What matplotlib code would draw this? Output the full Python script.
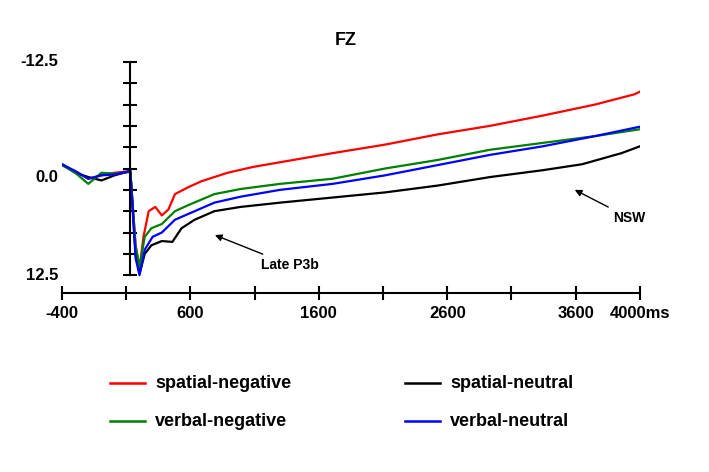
import numpy as np
import matplotlib
matplotlib.use('Agg')
from matplotlib import pyplot as plt
from matplotlib.lines import Line2D

plt.rcParams['font.family'] = ['Liberation Sans', 'DejaVu Sans']
plt.rcParams['font.weight'] = 'bold'

red_t = [-400, -300, -200, -100, 0, 120, 160, 190, 220, 260, 310, 360, 410, 460, 560, 660, 860, 1060, 1360, 1660, 2060, 2460, 2860, 3260, 3660, 3960, 4000]
red_v = [-0.4, 0.3, 1.2, 0.8, 0.5, 0.3, 9, 11.8, 8, 5, 4.5, 5.5, 4.8, 3.0, 2.2, 1.5, 0.5, -0.2, -1.0, -1.8, -2.8, -4.0, -5.0, -6.2, -7.5, -8.7, -9.0]
blk_t = [-400, -300, -200, -100, 0, 120, 160, 190, 230, 280, 360, 440, 510, 610, 760, 960, 1260, 1660, 2060, 2460, 2860, 3260, 3560, 3860, 4000]
blk_v = [-0.5, 0.5, 1.0, 1.4, 0.8, 0.3, 10, 12.3, 10, 9, 8.5, 8.6, 7, 6, 5, 4.5, 4, 3.4, 2.8, 2.0, 1.0, 0.2, -0.5, -1.8, -2.6]
grn_t = [-400, -300, -200, -100, 0, 120, 160, 190, 230, 280, 360, 460, 560, 760, 960, 1260, 1660, 2060, 2460, 2860, 3260, 3660, 4000]
grn_v = [-0.4, 0.5, 1.8, 0.5, 0.6, 0.4, 9, 11.5, 8, 7, 6.5, 5, 4.3, 3.0, 2.4, 1.8, 1.2, 0, -1.0, -2.2, -3.0, -3.8, -4.6]
blu_t = [-400, -300, -200, -100, 0, 120, 160, 190, 230, 290, 360, 460, 610, 760, 960, 1260, 1660, 2060, 2460, 2860, 3260, 3660, 4000]
blu_v = [-0.5, 0.3, 1.2, 0.8, 0.7, 0.3, 10.5, 12.5, 9.5, 8, 7.5, 6.0, 5.0, 4.0, 3.3, 2.5, 1.8, 0.8, -0.4, -1.6, -2.6, -3.8, -4.9]

series = [('spatial-negative', red_t, red_v, 'red'),
          ('spatial-neutral', blk_t, blk_v, 'black'),
          ('verbal-negative', grn_t, grn_v, 'green'),
          ('verbal-neutral', blu_t, blu_v, 'blue')]

xtick_labels = ['-400', '', '600', '', '1600', '', '2600', '', '3600', '4000ms']

fig = plt.figure(figsize=(7.09, 4.72), dpi=100)
ax = fig.add_axes([0.0875, 0.379, 0.815, 0.49])

for name, t, v, c in series:
    ax.plot(t, v, color=c, lw=1.6)

ax.set_xlim(-400, 4000)
ax.set_ylim(14.6, -12.5)
for s in ['top', 'right']:
    ax.spines[s].set_visible(False)
ax.spines['left'].set_position(('data', 120))
ax.spines['left'].set_bounds(12.5, -12.5)
ax.spines['left'].set_linewidth(1.5)
ax.spines['bottom'].set_linewidth(1.5)

xt = np.linspace(-400, 4000, 10)
ax.set_xticks(xt)
ax.set_xticklabels(xtick_labels, fontsize=12, fontweight='bold')
ax.tick_params(axis='x', direction='inout', length=10, width=1.5, pad=4)
ax.set_yticks(np.arange(-12.5, 12.6, 2.5))
ax.set_yticklabels([])
ax.tick_params(axis='y', direction='inout', length=10, width=1.5)

for val, lab in [(-12.5, '-12.5'), (1.0, '0.0'), (12.5, '12.5')]:
    ax.text(-430, val, lab, ha='right', va='center', fontsize=12, fontweight='bold')

fig.text(0.487, 0.905, 'FZ', ha='center', fontsize=13, fontweight='bold')

ax.annotate('Late P3b', xy=(764, 7.8), xytext=(1335, 11.3), fontsize=10, fontweight='bold',
            ha='center', va='center',
            arrowprops=dict(arrowstyle='-|>', color='black', lw=1, shrinkB=0))
ax.annotate('NSW', xy=(3504, 2.5), xytext=(3922, 5.8), fontsize=10, fontweight='bold',
            ha='center', va='center',
            arrowprops=dict(arrowstyle='-|>', color='black', lw=1, shrinkB=0))

pos = [(0.155, 0.188), (0.571, 0.188), (0.155, 0.108), (0.571, 0.108)]
for (name, t, v, c), (x0, y0) in zip(series, pos):
    fig.add_artist(Line2D([x0, x0 + 0.05], [y0, y0], color=c, lw=1.8))
    fig.text(x0 + 0.064, y0, name, va='center', fontsize=13, fontweight='bold')

fig.savefig('out.png', dpi=100)
